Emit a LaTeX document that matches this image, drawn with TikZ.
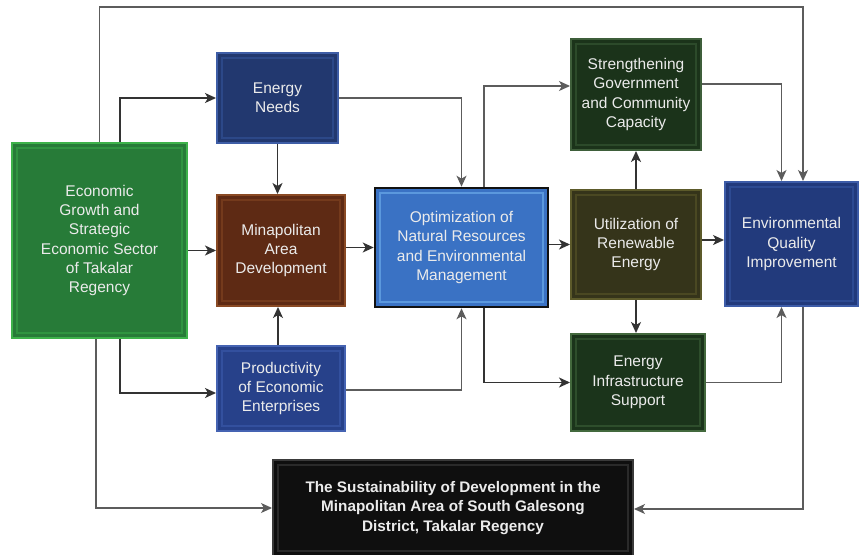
\documentclass[tikz,border=0pt]{standalone}
\usepackage{fontspec}
\setmainfont{Liberation Sans}
\usetikzlibrary{arrows.meta,calc}
\definecolor{econF}{HTML}{277B38}\definecolor{econD}{HTML}{3DB24A}\definecolor{econB}{HTML}{2F9440}
\definecolor{needF}{HTML}{22386F}\definecolor{needD}{HTML}{3E5DA6}\definecolor{needB}{HTML}{2C4888}
\definecolor{minaF}{HTML}{5E2A14}\definecolor{minaD}{HTML}{8A4A24}\definecolor{minaB}{HTML}{743A1C}
\definecolor{optF}{HTML}{3A72C4}\definecolor{optD}{HTML}{111111}\definecolor{optB}{HTML}{5B98DD}
\definecolor{strF}{HTML}{1B331A}\definecolor{strD}{HTML}{3E5E3A}\definecolor{strB}{HTML}{2C4A2A}
\definecolor{utiF}{HTML}{35341A}\definecolor{utiD}{HTML}{5C5A2A}\definecolor{utiB}{HTML}{4A4822}
\definecolor{envF}{HTML}{223A7C}\definecolor{envD}{HTML}{3D5CA8}\definecolor{envB}{HTML}{2D4A92}
\definecolor{proF}{HTML}{27418A}\definecolor{proD}{HTML}{4563B2}\definecolor{proB}{HTML}{33509E}
\definecolor{infF}{HTML}{1B341B}\definecolor{infD}{HTML}{43693D}\definecolor{infB}{HTML}{2E4E2C}
\definecolor{susF}{HTML}{0F0F0F}\definecolor{susD}{HTML}{3A3A3A}\definecolor{susB}{HTML}{2A2A2A}
\definecolor{lineC}{HTML}{333333}
\tikzset{
  box/.style n args={3}{rectangle, fill=#1, draw=#2, line width=2pt, inner sep=0pt,
    align=center, text=white!92!black, font=\fontsize{15.5}{19.3}\selectfont,
    path picture={\draw[#3, line width=1.2pt]
      ([shift={(5pt,-5pt)}]path picture bounding box.north west) rectangle
      ([shift={(-5pt,5pt)}]path picture bounding box.south east);}},
  arr/.style={draw=lineC, line width=1.5pt, -{Stealth[length=11pt,width=10pt,inset=3pt]}},
  thinarr/.style={arr, line width=1.2pt, draw=lineC!80!white},
}
\begin{document}
\begin{tikzpicture}[x=1pt,y=-1pt]
\useasboundingbox (0,0) rectangle (859,554);
\fill[white] (0,0) rectangle (859,554);
\begin{scope}
\clip (0,0) rectangle (859,554);
\node[box={econF}{econD}{econB}, minimum width=175pt, minimum height=195pt] (econ) at (99.5,240.5)
  {Economic\\Growth and\\Strategic\\Economic Sector\\of Takalar\\Regency};
\node[box={needF}{needD}{needB}, minimum width=121pt, minimum height=90pt] (needs) at (277.5,98)
  {Energy\\Needs};
\node[box={minaF}{minaD}{minaB}, minimum width=128pt, minimum height=111pt] (mina) at (281,250.5)
  {Minapolitan\\Area\\Development};
\node[box={optF}{optD}{optB}, line width=2.6pt, minimum width=173pt, minimum height=119pt] (opt) at (461.5,247.5)
  {Optimization of\\Natural Resources\\and Environmental\\Management};
\node[box={strF}{strD}{strB}, minimum width=130pt, minimum height=111pt] (streng) at (636,94.5)
  {Strengthening\\Government\\and Community\\Capacity};
\node[box={utiF}{utiD}{utiB}, minimum width=130pt, minimum height=109pt] (util) at (636,244.5)
  {Utilization of\\Renewable\\Energy};
\node[box={envF}{envD}{envB}, minimum width=133pt, minimum height=124pt] (envq) at (791.5,244)
  {Environmental\\Quality\\Improvement};
\node[box={proF}{proD}{proB}, minimum width=128pt, minimum height=85pt] (prod) at (281,388.5)
  {Productivity\\of Economic\\Enterprises};
\node[box={infF}{infD}{infB}, minimum width=134pt, minimum height=97pt] (infra) at (638,382.5)
  {Energy\\Infrastructure\\Support};
\node[box={susF}{susD}{susB}, minimum width=360pt, minimum height=96pt,
  font=\fontsize{15.3}{19.3}\selectfont\bfseries] (sust) at (453,508)
  {The Sustainability of Development in the\\Minapolitan Area of South Galesong\\District, Takalar Regency};
\end{scope}
% connectors
\coordinate (topline) at (0,7);
\draw[thinarr] (econ.north) -- (econ.north |- topline) -| ([xshift=11.5pt]envq.north);
\draw[arr] ([xshift=20.5pt]econ.north) |- (needs.west);
\draw[arr] (econ.east |- mina.west) -- (mina.west);
\draw[arr] (needs.south) -- (needs.south |- mina.north);
\draw[thinarr] (needs.east) -| (opt.north);
\draw[arr] (mina.east |- opt.west) -- (opt.west);
\draw[thinarr] ([xshift=22.5pt]opt.north) |- ([yshift=8.5pt]streng.west);
\draw[arr] (opt.east |- util.west) -- (util.west);
\draw[arr] (util.north) -- (streng.south);
\draw[thinarr] ([yshift=10.5pt]streng.east) -| ([xshift=-10pt]envq.north);
\draw[arr] ([yshift=4.5pt]util.east) -- ([yshift=4.5pt]util.east -| envq.west);
\draw[arr] (util.south) -- (util.south |- infra.north);
\draw[arr] ([xshift=22.5pt]opt.south) |- (infra.west);
\draw[thinarr] ([yshift=-1.5pt]prod.east) -| (opt.south);
\draw[arr] ([xshift=-3pt]prod.north) -- ([xshift=-3pt]prod.north |- mina.south);
\draw[arr] ([xshift=20.5pt]econ.south) |- ([yshift=-4.5pt]prod.west);
\draw[thinarr] ([xshift=-3.5pt]econ.south) |- (sust.west);
\draw[thinarr] (infra.east) -| ([xshift=-10pt]envq.south);
\draw[thinarr] ([xshift=11.5pt]envq.south) |- ([yshift=-1pt]sust.east);
\end{tikzpicture}
\end{document}
